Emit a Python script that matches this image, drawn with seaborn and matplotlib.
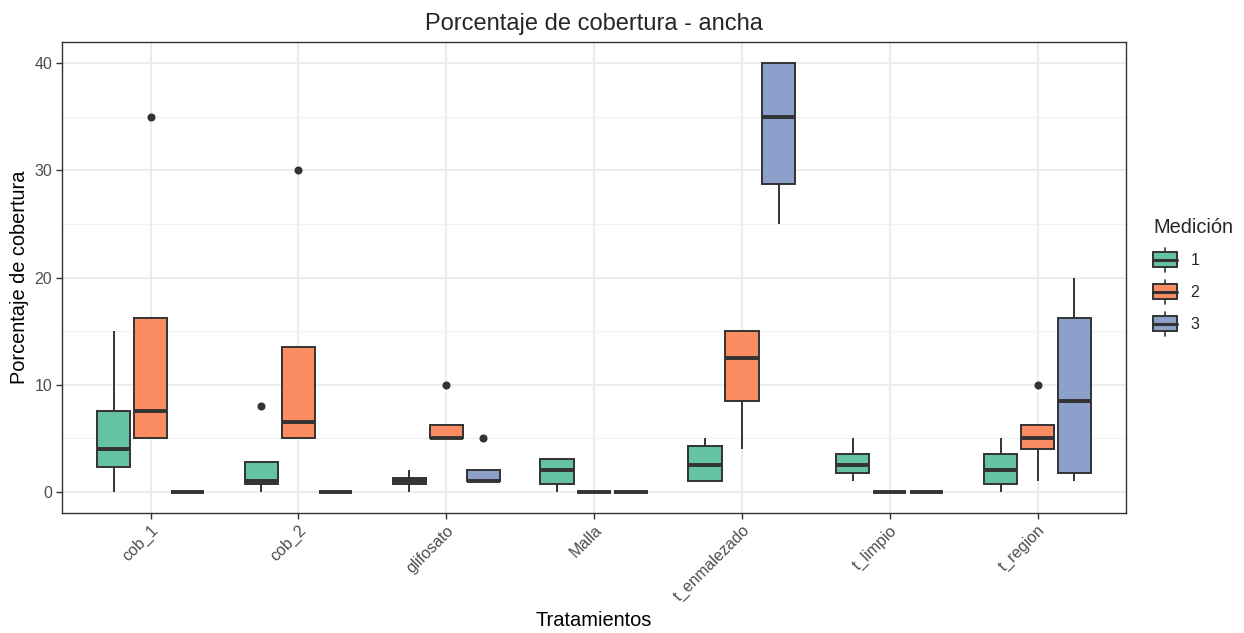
import matplotlib
matplotlib.use("Agg")
import matplotlib.pyplot as plt
import seaborn as sns
import pandas as pd
from matplotlib.patches import Rectangle, Patch
from matplotlib.lines import Line2D
from matplotlib.legend_handler import HandlerBase

# raw values per treatment and measurement (4 replicates each)
tratamientos = ["cob_1", "cob_2", "glifosato", "Malla", "t_enmalezado", "t_limpio", "t_region"]
mediciones = ["1", "2", "3"]

cob_1_m1 = [0, 3, 5, 15]
cob_1_m2 = [5, 5, 10, 35]
cob_1_m3 = [0, 0, 0, 0]
cob_2_m1 = [0, 1, 1, 8]
cob_2_m2 = [5, 5, 8, 30]
cob_2_m3 = [0, 0, 0, 0]
glifosato_m1 = [0, 1, 1, 2]
glifosato_m2 = [5, 5, 5, 10]
glifosato_m3 = [1, 1, 1, 5]
malla_m1 = [0, 1, 3, 3]
malla_m2 = [0, 0, 0, 0]
malla_m3 = [0, 0, 0, 0]
enmalezado_m1 = [1, 1, 4, 5]
enmalezado_m2 = [4, 10, 15, 15]
enmalezado_m3 = [25, 30, 40, 40]
limpio_m1 = [1, 2, 3, 5]
limpio_m2 = [0, 0, 0, 0]
limpio_m3 = [0, 0, 0, 0]
region_m1 = [0, 1, 3, 5]
region_m2 = [1, 5, 5, 10]
region_m3 = [1, 2, 15, 20]

valores = {
    "cob_1": [cob_1_m1, cob_1_m2, cob_1_m3],
    "cob_2": [cob_2_m1, cob_2_m2, cob_2_m3],
    "glifosato": [glifosato_m1, glifosato_m2, glifosato_m3],
    "Malla": [malla_m1, malla_m2, malla_m3],
    "t_enmalezado": [enmalezado_m1, enmalezado_m2, enmalezado_m3],
    "t_limpio": [limpio_m1, limpio_m2, limpio_m3],
    "t_region": [region_m1, region_m2, region_m3],
}

rows = []
for t in tratamientos:
    for m, vals in zip(mediciones, valores[t]):
        for v in vals:
            rows.append({"Tratamientos": t, "Medicion": m, "Cobertura": v})
data = pd.DataFrame(rows)

colores = ["#66C2A5", "#FC8D62", "#8DA0CB"]
linea = "#333333"

sns.set_style("white")
plt.rcParams["font.family"] = ["Liberation Sans", "DejaVu Sans"]

fig = plt.figure(figsize=(12.44, 6.33), dpi=100)
ax = fig.add_axes([0.0498, 0.1896, 0.8555, 0.744])

# grid like theme_bw
for y in [5, 15, 25, 35]:
    ax.axhline(y, color="#F2F2F2", lw=0.8, zorder=0)
for y in [0, 10, 20, 30, 40]:
    ax.axhline(y, color="#EBEBEB", lw=1.3, zorder=0)
for i in range(len(tratamientos)):
    ax.axvline(i, color="#EBEBEB", lw=1.3, zorder=0)

sns.boxplot(
    data=data, x="Tratamientos", y="Cobertura", hue="Medicion",
    order=tratamientos, hue_order=mediciones, palette=colores,
    width=0.75, gap=0.1, saturation=1, linecolor=linea, linewidth=1.4,
    whis=1.5, dodge=True, legend=False, ax=ax, showcaps=False,
    medianprops={"linewidth": 2.8, "color": linea},
    flierprops={"marker": "o", "markersize": 4.8, "markerfacecolor": linea,
                "markeredgecolor": linea},
)

ax.set_xlim(-0.6, 6.6)
ax.set_ylim(-2, 42)
ax.set_yticks([0, 10, 20, 30, 40])
for s in ax.spines.values():
    s.set_color(linea)
    s.set_linewidth(1.0)
ax.tick_params(axis="both", colors=linea, length=4, width=1, labelsize=11.5,
               labelcolor="#4D4D4D", direction="out", pad=3)
ax.tick_params(axis="both", which="both", bottom=True, left=True)
plt.setp(ax.get_xticklabels(), rotation=45, ha="right", va="top",
         rotation_mode="anchor")

ax.set_xlabel("Tratamientos", fontsize=14.4, color="black", labelpad=5)
ax.set_ylabel("Porcentaje de cobertura", fontsize=14.4, color="black", labelpad=4)
ax.set_title("Porcentaje de cobertura - ancha", fontsize=17, pad=9)


class BoxHandler(HandlerBase):
    def create_artists(self, legend, orig_handle, xdescent, ydescent,
                       width, height, fontsize, trans):
        x0, y0 = -xdescent, -ydescent
        cx = x0 + width / 2
        rect = Rectangle((x0, y0 + height * 0.1), width, height * 0.8,
                         facecolor=orig_handle.get_facecolor(),
                         edgecolor=linea, lw=1.4, transform=trans)
        med = Line2D([x0, x0 + width], [y0 + height / 2] * 2, color=linea,
                     lw=2.2, transform=trans)
        w1 = Line2D([cx, cx], [y0 + height * 0.9, y0 + height * 1.15],
                    color=linea, lw=1.2, transform=trans)
        w2 = Line2D([cx, cx], [y0 + height * 0.1, y0 - height * 0.15],
                    color=linea, lw=1.2, transform=trans)
        return [w1, w2, rect, med]


handles = [Patch(facecolor=c) for c in colores]
leg = fig.legend(handles, mediciones, title="Medición",
                 handler_map={Patch: BoxHandler()},
                 loc="upper left", bbox_to_anchor=(0.927, 0.656),
                 frameon=False, fontsize=11.5, title_fontsize=14.4,
                 handlelength=1.5, handleheight=1.4, labelspacing=0.85,
                 handletextpad=0.85, borderpad=0, borderaxespad=0,
                 alignment="left")

fig.savefig("out.png", dpi=100)
